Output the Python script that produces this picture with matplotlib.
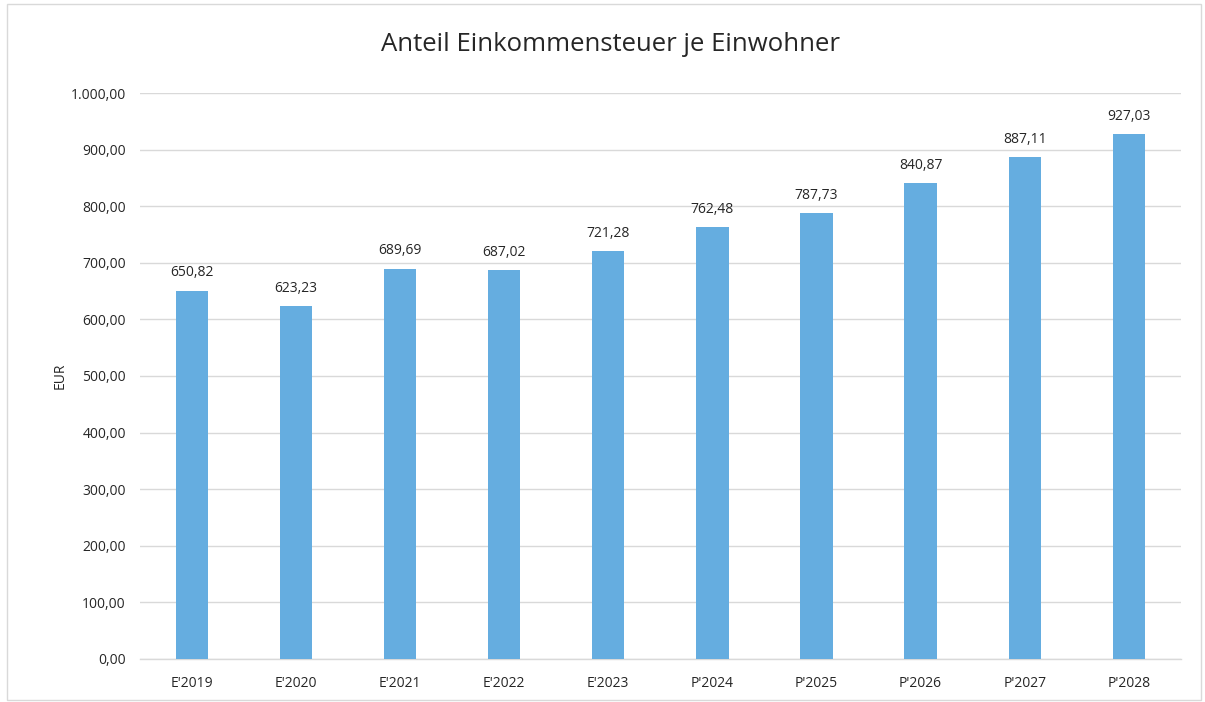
import matplotlib
matplotlib.use("Agg")
import matplotlib.pyplot as plt
from matplotlib.patches import Rectangle

# data
categories = ["E'2019", "E'2020", "E'2021", "E'2022", "E'2023",
              "P'2024", "P'2025", "P'2026", "P'2027", "P'2028"]
values = [650.82, 623.23, 689.69, 687.02, 721.28,
          762.48, 787.73, 840.87, 887.11, 927.03]
yticks = [0, 100, 200, 300, 400, 500, 600, 700, 800, 900, 1000]


def de_fmt(v):
    # german number format 1.000,00
    s = "{:,.2f}".format(v)
    return s.replace(",", "X").replace(".", ",").replace("X", ".")


plt.rcParams['font.family'] = ['Open Sans', 'DejaVu Sans']

fig = plt.figure(figsize=(12.05, 7.02), dpi=100)
ax = fig.add_axes([0.116, 0.0613, 0.864, 0.8062])

x = list(range(len(categories)))
bars = ax.bar(x, values, width=0.31, color='#65ADE0', zorder=3)

for xi, v in zip(x, values):
    ax.text(xi, v + 18, de_fmt(v), ha='center', va='bottom',
            fontsize=10, color='#262626')

ax.set_xlim(-0.5, len(categories) - 0.5)
ax.set_ylim(0, 1000)
ax.set_yticks(yticks)
ax.set_yticklabels([de_fmt(t) for t in yticks], fontsize=10, color='#262626')
ax.set_xticks(x)
ax.set_xticklabels(categories, fontsize=10, color='#262626')
ax.tick_params(axis='both', length=0, pad=10)
ax.tick_params(axis='x', pad=12)

ax.grid(axis='y', color='#D9D9D9', linewidth=1, zorder=0)
for s in ['top', 'right', 'left']:
    ax.spines[s].set_visible(False)
ax.spines['bottom'].set_color('#D9D9D9')
ax.spines['bottom'].set_linewidth(1)

ax.set_ylabel('EUR', fontsize=10, color='#262626', labelpad=2)

fig.text(0.507, 0.937, 'Anteil Einkommensteuer je Einwohner',
         ha='center', va='center', fontsize=18.5, color='#262626')

# thin border round the chart
fig.patches.append(Rectangle((0.006, 0.003), 0.991, 0.991,
                             transform=fig.transFigure, fill=False,
                             edgecolor='#D9D9D9', linewidth=1))

fig.savefig('out.png', dpi=100)
